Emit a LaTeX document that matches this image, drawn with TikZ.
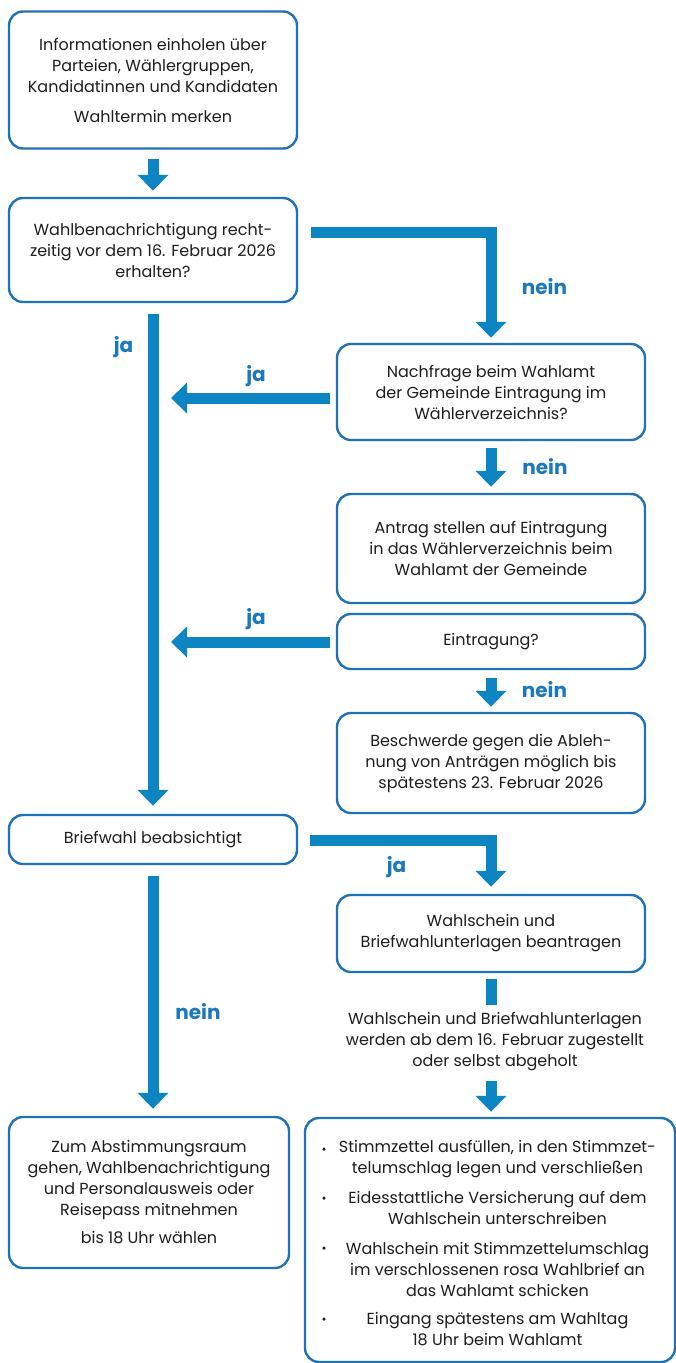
\documentclass[tikz,border=0pt]{standalone}
\usepackage{fontspec}
\setmainfont{Poppins}
\usetikzlibrary{arrows.meta}

\definecolor{boxblue}{HTML}{1F72B6}
\definecolor{flowblue}{HTML}{0D85C3}
\definecolor{labelblue}{HTML}{1B78BE}
\definecolor{textgray}{HTML}{1E1E1E}

\begin{document}
\begin{tikzpicture}[x=1pt,y=-1pt,>={Triangle[width=30pt,length=16pt]}]
		\tikzstyle{box}=[draw=boxblue, line width=2.4pt, rounded corners=14pt, align=center, text=textgray, inner sep=0pt, font=\fontsize{16}{21}\selectfont]
		\tikzstyle{plain}=[align=center, text=textgray, inner sep=0pt, font=\fontsize{16}{21}\selectfont]
		\tikzstyle{flow}=[->, draw=flowblue, line width=11pt]
		\tikzstyle{bar}=[draw=flowblue, line width=11pt]
		\tikzstyle{answer}=[anchor=base, text=labelblue, inner sep=0pt, font=\fontsize{20}{20}\selectfont\bfseries]
		\tikzstyle{dot}=[circle, fill=textgray, inner sep=0pt, minimum size=3.5pt]

		\useasboundingbox (0,0) rectangle (676,1363);

		% left column
		\node [box, minimum width=288pt, minimum height=137pt] (info) at (153,80) {Informationen einholen über\\Parteien, Wählergruppen,\\Kandidatinnen und Kandidaten\\[9pt]Wahltermin merken};
		\node [box, minimum width=288pt, minimum height=104pt] (notice) at (153,250) {Wahlbenachrichtigung recht-\\zeitig vor dem 16. Februar 2026\\erhalten?};
		\node [box, minimum width=288pt, minimum height=49pt] (postal) at (153,839.5) {Briefwahl beabsichtigt};
		\node [box, minimum width=280pt, minimum height=151pt] (station) at (149,1192.5) {Zum Abstimmungsraum\\gehen, Wahlbenachrichtigung\\und Personalausweis oder\\Reisepass mitnehmen\\[7pt]bis 18 Uhr wählen};

		% right column
		\node [box, minimum width=308pt, minimum height=96pt] (inquiry) at (491,392) {Nachfrage beim Wahlamt\\der Gemeinde Eintragung im\\Wählerverzeichnis?};
		\node [box, minimum width=308pt, minimum height=109pt] (request) at (491,548.5) {Antrag stellen auf Eintragung\\in das Wählerverzeichnis beim\\Wahlamt der Gemeinde};
		\node [box, minimum width=308pt, minimum height=55pt] (entry) at (491,641.5) {Eintragung?};
		\node [box, minimum width=308pt, minimum height=100pt] (appeal) at (491,763) {Beschwerde gegen die Ableh-\\nung von Anträgen möglich bis\\spätestens 23. Februar 2026};
		\node [box, minimum width=308pt, minimum height=77pt] (apply) at (491,933.5) {Wahlschein und\\Briefwahlunterlagen beantragen};
		\node [plain] (deliver) at (495,1042) {Wahlschein und Briefwahlunterlagen\\werden ab dem 16. Februar zugestellt\\oder selbst abgeholt};
		\node [box, minimum width=370pt, minimum height=244pt] (mail) at (490,1240) {};

		% steps of the postal vote
		\node [dot] (d1) at (324,1149) {};
		\node [dot] (d2) at (324,1198) {};
		\node [dot] (d3) at (324,1248) {};
		\node [dot] (d4) at (324,1319) {};
		\node [plain] (s1) at (497.5,1159) {Stimmzettel ausfüllen, in den Stimmzet-\\telumschlag legen und verschließen};
		\node [plain] (s2) at (497.5,1208) {Eidesstattliche Versicherung auf dem\\Wahlschein unterschreiben};
		\node [plain] (s3) at (497.5,1269) {Wahlschein mit Stimmzettelumschlag\\im verschlossenen rosa Wahlbrief an\\das Wahlamt schicken};
		\node [plain] (s4) at (497.5,1329.5) {Eingang spätestens am Wahltag\\18 Uhr beim Wahlamt};

		% loose ends of the connectors
		\coordinate (noticeout) at (311,232);
		\coordinate (inquiryout) at (330,398);
		\coordinate (inquiryin) at (171,398);
		\coordinate (entryout) at (330,642);
		\coordinate (entryin) at (171,642);
		\coordinate (postalout) at (310,840);

		% connectors
		\draw [flow, shorten <=9pt, shorten >=6pt] (info.south) -- (notice.north);
		\draw [flow, shorten >=5pt] (noticeout) -| (inquiry.north);
		\draw [flow, shorten <=11pt, shorten >=8pt] (notice.south) -- (postal.north);
		\draw [flow] (inquiryout) -- (inquiryin);
		\draw [flow, shorten <=7pt, shorten >=6pt] (inquiry.south) -- (request.north);
		\draw [flow] (entryout) -- (entryin);
		\draw [flow, shorten <=8pt, shorten >=5pt] (entry.south) -- (appeal.north);
		\draw [flow, shorten >=7pt] (postalout) -| (apply.north);
		\draw [flow, shorten <=11pt, shorten >=7pt] (postal.south) -- (postal.south |- station.north);
		\draw [bar, shorten <=6pt, shorten >=8pt] (apply.south) -- (apply.south |- deliver.north);
		\draw [flow, shorten <=10pt, shorten >=5pt] (deliver.south -| apply.south) -- (apply.south |- mail.north);

		% answers
		\node [answer] (nein1) at (544.5,294) {nein};
		\node [answer] (ja1) at (123.5,352) {ja};
		\node [answer] (ja2) at (256,381) {ja};
		\node [answer] (nein2) at (545,474) {nein};
		\node [answer] (ja3) at (256,624) {ja};
		\node [answer] (nein3) at (544.5,697) {nein};
		\node [answer] (ja4) at (396.5,872) {ja};
		\node [answer] (nein4) at (198,1019) {nein};
	\end{tikzpicture}
\end{document}
